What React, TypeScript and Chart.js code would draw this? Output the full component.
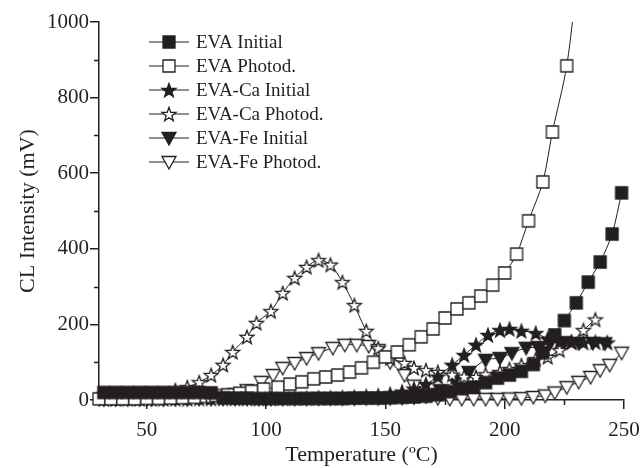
import React, { useEffect, useRef } from 'react';
import { Chart, registerables } from 'chart.js';

Chart.register(...registerables);

const INK = '#231f20';
const SERIF = "'Liberation Serif', 'Times New Roman', Times, serif";

// Axis ticks
const xTicks = [50, 100, 150, 200, 250];
const xMinorTicks = [75, 125, 175, 225];
const yTicks = [0, 200, 400, 600, 800, 1000];
const yMinorTicks = [100, 300, 500, 700, 900];

const seriesNames = [
  'EVA Initial',
  'EVA Photod.',
  'EVA-Ca Initial',
  'EVA-Ca Photod.',
  'EVA-Fe Initial',
  'EVA-Fe Photod.',
];

// EVA, initial sample (temperature in ºC, CL intensity in mV)
const evaInitialT = [32, 37, 42, 47, 52, 57, 62, 67, 72, 77, 82, 87, 92, 97, 102, 107, 112, 117, 122, 127, 132, 137, 142, 147, 152, 157, 162, 167, 172, 177, 182, 187, 192, 197, 202, 207, 212, 216, 221, 225, 230, 235, 240, 245, 249];
const evaInitialCL = [20, 20, 20, 20, 20, 20, 20, 20, 20, 19, 6, 5, 5, 4, 4, 4, 4, 4, 4, 4, 4, 5, 5, 5, 6, 7, 8, 10, 14, 22, 30, 34, 46, 58, 66, 76, 94, 125, 172, 210, 257, 312, 365, 439, 548];

// EVA, photodegraded
const evaPhotodT = [30, 35, 40, 45, 50, 55, 60, 65, 70, 75, 79, 84, 89, 94, 99, 105, 110, 115, 120, 125, 130, 135, 140, 145, 150, 155, 160, 165, 170, 175, 180, 185, 190, 195, 200, 205, 210, 216, 220, 226, 231];
const evaPhotodCL = [3, 3, 3, 3, 4, 4, 5, 6, 7, 9, 12, 14, 18, 23, 29, 34, 42, 48, 56, 61, 66, 74, 85, 100, 114, 127, 146, 167, 188, 217, 241, 257, 275, 304, 336, 386, 474, 577, 709, 884, 1150];

// EVA-Ca, initial
const evaCaInitialT = [32, 37, 42, 47, 52, 57, 62, 67, 72, 77, 82, 87, 92, 97, 102, 107, 112, 117, 122, 127, 132, 137, 142, 147, 152, 157, 162, 167, 172, 178, 183, 188, 193, 198, 202, 207, 213, 218, 223, 228, 233, 238, 243];
const evaCaInitialCL = [3, 3, 3, 3, 3, 3, 3, 3, 4, 4, 4, 4, 4, 4, 4, 5, 5, 5, 6, 6, 7, 8, 10, 12, 16, 22, 30, 42, 62, 93, 119, 146, 172, 185, 188, 183, 177, 162, 155, 153, 152, 153, 152];

// EVA-Ca, photodegraded
const evaCaPhotodT = [32, 37, 42, 47, 52, 57, 62, 67, 72, 77, 82, 86, 92, 96, 102, 107, 112, 117, 122, 127, 132, 137, 142, 147, 152, 158, 162, 167, 172, 178, 183, 188, 192, 198, 202, 207, 213, 218, 223, 228, 233, 238];
const evaCaPhotodCL = [4, 4, 5, 5, 6, 12, 26, 34, 47, 66, 93, 127, 167, 204, 235, 283, 323, 352, 370, 358, 312, 251, 183, 137, 111, 98, 85, 79, 74, 67, 62, 61, 68, 74, 82, 92, 108, 114, 132, 153, 185, 213];

// EVA-Fe, initial
const evaFeInitialT = [32, 37, 42, 47, 52, 57, 62, 67, 72, 77, 82, 87, 92, 97, 102, 107, 112, 117, 122, 127, 132, 137, 142, 147, 152, 157, 162, 167, 173, 179, 185, 192, 198, 203, 209, 214, 219, 225, 231, 237, 242];
const evaFeInitialCL = [2, 2, 2, 2, 2, 2, 2, 2, 3, 3, 3, 3, 3, 3, 3, 3, 3, 3, 4, 4, 4, 4, 5, 5, 5, 6, 7, 10, 26, 50, 74, 106, 111, 124, 138, 140, 150, 153, 151, 151, 150];

// EVA-Fe, photodegraded
const evaFePhotodT = [32, 37, 42, 47, 52, 57, 62, 67, 72, 77, 82, 87, 92, 98, 103, 107, 112, 117, 122, 128, 133, 138, 143, 147, 152, 158, 162, 167, 172, 177, 182, 187, 192, 197, 202, 207, 212, 217, 221, 226, 231, 236, 240, 244, 249];
const evaFePhotodCL = [4, 4, 4, 4, 4, 4, 5, 5, 6, 6, 8, 16, 26, 48, 66, 85, 98, 111, 124, 138, 146, 146, 143, 132, 100, 66, 38, 15, 5, 3, 3, 3, 3, 3, 4, 5, 8, 12, 20, 34, 48, 61, 79, 93, 125];

type Shape = 'square' | 'star' | 'triangle';

function makeMarker(shape: Shape, filled: boolean): HTMLCanvasElement {
  const c = document.createElement('canvas');
  c.width = 20;
  c.height = 20;
  const ctx = c.getContext('2d')!;
  const m = 10;
  ctx.beginPath();
  if (shape === 'square') {
    ctx.rect(m - 6, m - 6, 12, 12);
  } else if (shape === 'triangle') {
    ctx.moveTo(m - 7, m - 5.5);
    ctx.lineTo(m + 7, m - 5.5);
    ctx.lineTo(m, m + 7);
    ctx.closePath();
  } else {
    for (let i = 0; i < 10; i++) {
      const a = -Math.PI / 2 + (i * Math.PI) / 5;
      const r = i % 2 === 0 ? 7.3 : 3.0;
      const px = m + r * Math.cos(a);
      const py = m + 0.7 + r * Math.sin(a);
      if (i === 0) ctx.moveTo(px, py);
      else ctx.lineTo(px, py);
    }
    ctx.closePath();
  }
  ctx.fillStyle = filled ? INK : '#ffffff';
  ctx.fill();
  ctx.lineWidth = 1.3;
  ctx.strokeStyle = INK;
  ctx.stroke();
  return c;
}

export default function App() {
  const canvasRef = useRef<HTMLCanvasElement | null>(null);

  useEffect(() => {
    document.body.style.margin = '0';
    const canvas = canvasRef.current;
    if (!canvas) return;

    const markers = [
      makeMarker('square', true),
      makeMarker('square', false),
      makeMarker('star', true),
      makeMarker('star', false),
      makeMarker('triangle', true),
      makeMarker('triangle', false),
    ];
    const temps = [evaInitialT, evaPhotodT, evaCaInitialT, evaCaPhotodT, evaFeInitialT, evaFePhotodT];
    const values = [evaInitialCL, evaPhotodCL, evaCaInitialCL, evaCaPhotodCL, evaFeInitialCL, evaFePhotodCL];

    const datasets = seriesNames.map((name, k) => ({
      label: name,
      data: temps[k].map((t, i) => ({ x: t, y: values[k][i] })),
      borderColor: INK,
      borderWidth: 1,
      backgroundColor: INK,
      pointStyle: markers[k],
      pointRadius: 6,
      tension: 0.3,
      fill: false,
      clip: { left: 10, right: 10, top: 0, bottom: 10 },
    }));

    // Short minor ticks between the labelled ones
    const minorTicks = {
      id: 'minorTicks',
      afterDraw(chart: any) {
        const { ctx, chartArea, scales } = chart;
        ctx.save();
        ctx.strokeStyle = INK;
        ctx.lineWidth = 1.5;
        ctx.beginPath();
        for (const v of yMinorTicks) {
          const py = Math.round(scales.y.getPixelForValue(v)) + 0.5;
          ctx.moveTo(chartArea.left - 5, py);
          ctx.lineTo(chartArea.left, py);
        }
        for (const v of xMinorTicks) {
          const px = Math.round(scales.x.getPixelForValue(v)) + 0.5;
          ctx.moveTo(px, chartArea.bottom);
          ctx.lineTo(px, chartArea.bottom + 5);
        }
        ctx.stroke();
        ctx.restore();
      },
    };

    // Legend inside the plot: line sample with centred marker, then name
    const insetLegend = {
      id: 'insetLegend',
      afterDraw(chart: any) {
        const { ctx } = chart;
        ctx.save();
        ctx.font = `19px ${SERIF}`;
        ctx.textBaseline = 'middle';
        ctx.textAlign = 'left';
        ctx.fillStyle = INK;
        seriesNames.forEach((name, k) => {
          const y = 42 + k * 24;
          ctx.strokeStyle = INK;
          ctx.lineWidth = 1.2;
          ctx.beginPath();
          ctx.moveTo(149, y);
          ctx.lineTo(189, y);
          ctx.stroke();
          const mk = markers[k];
          ctx.drawImage(mk, 169 - mk.width / 2, y - mk.height / 2);
          ctx.fillText(name, 196, y + 1);
        });
        ctx.restore();
      },
    };

    const chart = new Chart(canvas, {
      type: 'line',
      data: { datasets } as any,
      options: {
        animation: false,
        responsive: false,
        devicePixelRatio: 1,
        layout: { padding: { top: 22, right: 19, left: 0, bottom: 0 } },
        plugins: {
          legend: { display: false },
          tooltip: { enabled: false },
        },
        scales: {
          x: {
            type: 'linear',
            min: 30,
            max: 250,
            afterFit: (s: any) => {
              s.height = 68;
              s.paddingLeft = 0;
              s.paddingRight = 0;
            },
            afterBuildTicks: (s: any) => {
              s.ticks = xTicks.map((v) => ({ value: v }));
            },
            grid: { drawOnChartArea: false, tickLength: 9, color: INK, lineWidth: 1.5 },
            border: { display: true, color: INK, width: 1.5 },
            ticks: {
              color: INK,
              font: { family: SERIF, size: 21 },
              padding: 9,
              maxRotation: 0,
              callback: (v: any) => String(v),
            },
            title: {
              display: true,
              text: 'Temperature (ºC)',
              color: INK,
              font: { family: SERIF, size: 22 },
              padding: { top: 0, bottom: 0 },
            },
          },
          y: {
            type: 'linear',
            min: 0,
            max: 1000,
            afterFit: (s: any) => {
              s.width = 99;
            },
            afterBuildTicks: (s: any) => {
              s.ticks = yTicks.map((v) => ({ value: v }));
            },
            grid: { drawOnChartArea: false, tickLength: 9, color: INK, lineWidth: 1.5 },
            border: { display: true, color: INK, width: 1.5 },
            ticks: {
              color: INK,
              font: { family: SERIF, size: 21 },
              padding: 1,
              callback: (v: any) => String(v),
            },
            title: {
              display: true,
              text: 'CL Intensity (mV)',
              color: INK,
              font: { family: SERIF, size: 22 },
              padding: { top: 15, bottom: 0 },
            },
          },
        },
      } as any,
      plugins: [minorTicks, insetLegend],
    });

    return () => {
      chart.destroy();
    };
  }, []);

  return (
    <div style={{ width: 643, height: 468 }}>
      <canvas ref={canvasRef} width={643} height={468} style={{ display: 'block' }} />
    </div>
  );
}
